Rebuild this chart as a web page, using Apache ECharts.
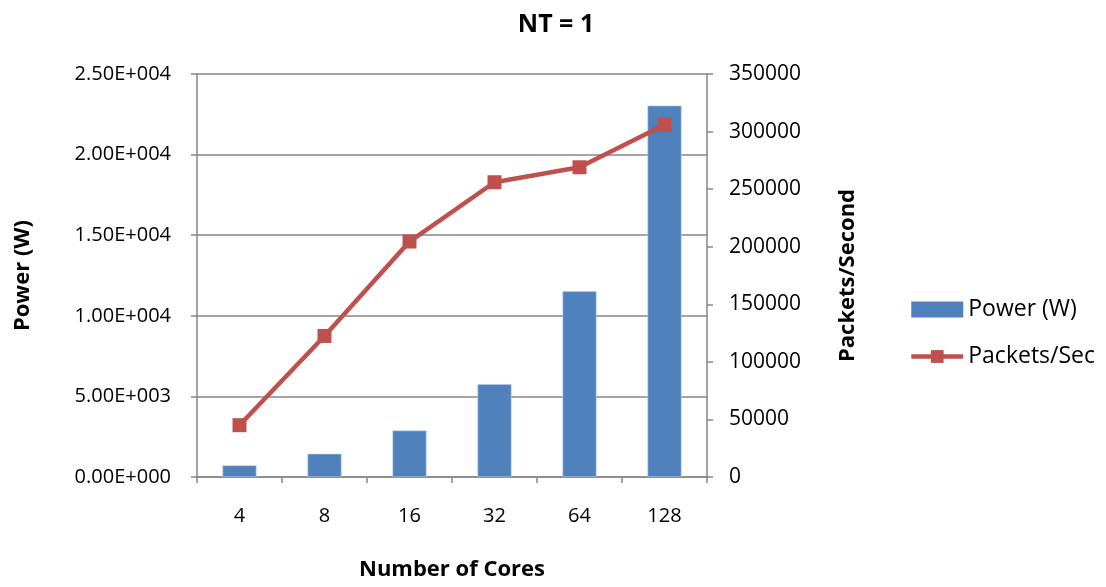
<!DOCTYPE html>
<html>
<head>
<meta charset="utf-8">
<script src="https://cdn.jsdelivr.net/npm/echarts@6/dist/echarts.min.js"></script>
<style>
  html, body { margin: 0; padding: 0; background: #fff; }
  #chart { width: 1106px; height: 587px; }
</style>
</head>
<body>
<div id="chart"></div>
<script>
// Core counts on the x axis
const cores = ['4', '8', '16', '32', '64', '128'];
// Power draw per configuration (W)
const powerW = [720, 1440, 2880, 5760, 11520, 23040];
// Throughput per configuration (packets per second)
const packetsPerSec = [45000, 122500, 204500, 256000, 269000, 306000];

const FONT = '"Open Sans", Lato, sans-serif';
const GRAY = '#868686';
const RED = '#C0504D';
const BLUE = '#4F81BD';

function sci(v) {
  // 5000 -> "5.00E+003"
  if (v === 0) return '0.00E+000';
  const e = Math.floor(Math.log10(Math.abs(v)));
  const m = v / Math.pow(10, e);
  return m.toFixed(2) + 'E+' + String(e).padStart(3, '0');
}

const chart = echarts.init(document.getElementById('chart'), null, { renderer: 'canvas' });
chart.setOption({
  animation: false,
  backgroundColor: '#fff',
  title: {
    text: 'NT = 1',
    left: 551, top: 7, textAlign: 'center',
    textStyle: { fontFamily: FONT, fontWeight: 'bold', fontSize: 25, color: '#000' }
  },
  grid: { left: 197, right: 399, top: 74, bottom: 110, containLabel: false },
  legend: {
    orient: 'vertical',
    left: 909, top: 298,
    padding: 0,
    itemGap: 24,
    itemWidth: 52, itemHeight: 16,
    textStyle: { fontFamily: FONT, fontSize: 23, color: '#000', padding: [0, 0, 0, 0] },
    data: [
      { name: 'Power (W)', icon: 'rect', itemStyle: { color: BLUE, borderWidth: 0 } },
      { name: 'Packets/Sec', lineStyle: { color: RED, width: 4.5 } }
    ]
  },
  xAxis: {
    type: 'category',
    data: cores,
    name: 'Number of Cores',
    nameLocation: 'middle',
    nameGap: 82,
    nameTextStyle: { fontFamily: FONT, fontWeight: 'bold', fontSize: 22, color: '#000' },
    axisLine: { lineStyle: { color: GRAY, width: 1.5 } },
    axisTick: { show: true, length: 6, lineStyle: { color: GRAY, width: 1.5 } },
    axisLabel: { fontFamily: FONT, fontSize: 20, color: '#000', margin: 29 }
  },
  yAxis: [
    {
      type: 'value',
      min: 0, max: 25000, interval: 5000,
      name: 'Power (W)',
      nameLocation: 'middle',
      nameGap: 163,
      nameTextStyle: { fontFamily: FONT, fontWeight: 'bold', fontSize: 22, color: '#000' },
      axisLine: { show: true, lineStyle: { color: GRAY, width: 1.5 } },
      axisTick: { show: true, length: 6, lineStyle: { color: GRAY, width: 1.5 } },
      axisLabel: { fontFamily: FONT, fontSize: 20, color: '#000', margin: 26, formatter: sci },
      splitLine: { show: true, lineStyle: { color: GRAY, width: 1.5 } }
    },
    {
      type: 'value',
      min: 0, max: 350000, interval: 50000,
      position: 'right',
      name: 'Packets/Second',
      nameLocation: 'middle',
      nameGap: 130,
      nameRotate: 90,
      nameTextStyle: { fontFamily: FONT, fontWeight: 'bold', fontSize: 22, color: '#000' },
      axisLine: { show: true, lineStyle: { color: GRAY, width: 1.5 } },
      axisTick: { show: true, length: 6, lineStyle: { color: GRAY, width: 1.5 } },
      axisLabel: { fontFamily: FONT, fontSize: 21, color: '#000', margin: 22, formatter: v => String(v) },
      splitLine: { show: false }
    }
  ],
  series: [
    {
      name: 'Power (W)',
      type: 'bar',
      data: powerW,
      yAxisIndex: 0,
      barWidth: '40%',
      itemStyle: { color: BLUE, borderColor: '#B9CDE5', borderWidth: 0.6 }
    },
    {
      name: 'Packets/Sec',
      type: 'line',
      data: packetsPerSec,
      yAxisIndex: 1,
      symbol: 'rect',
      symbolSize: 14,
      lineStyle: { color: RED, width: 4.5 },
      itemStyle: { color: RED }
    }
  ]
});
</script>
</body>
</html>
